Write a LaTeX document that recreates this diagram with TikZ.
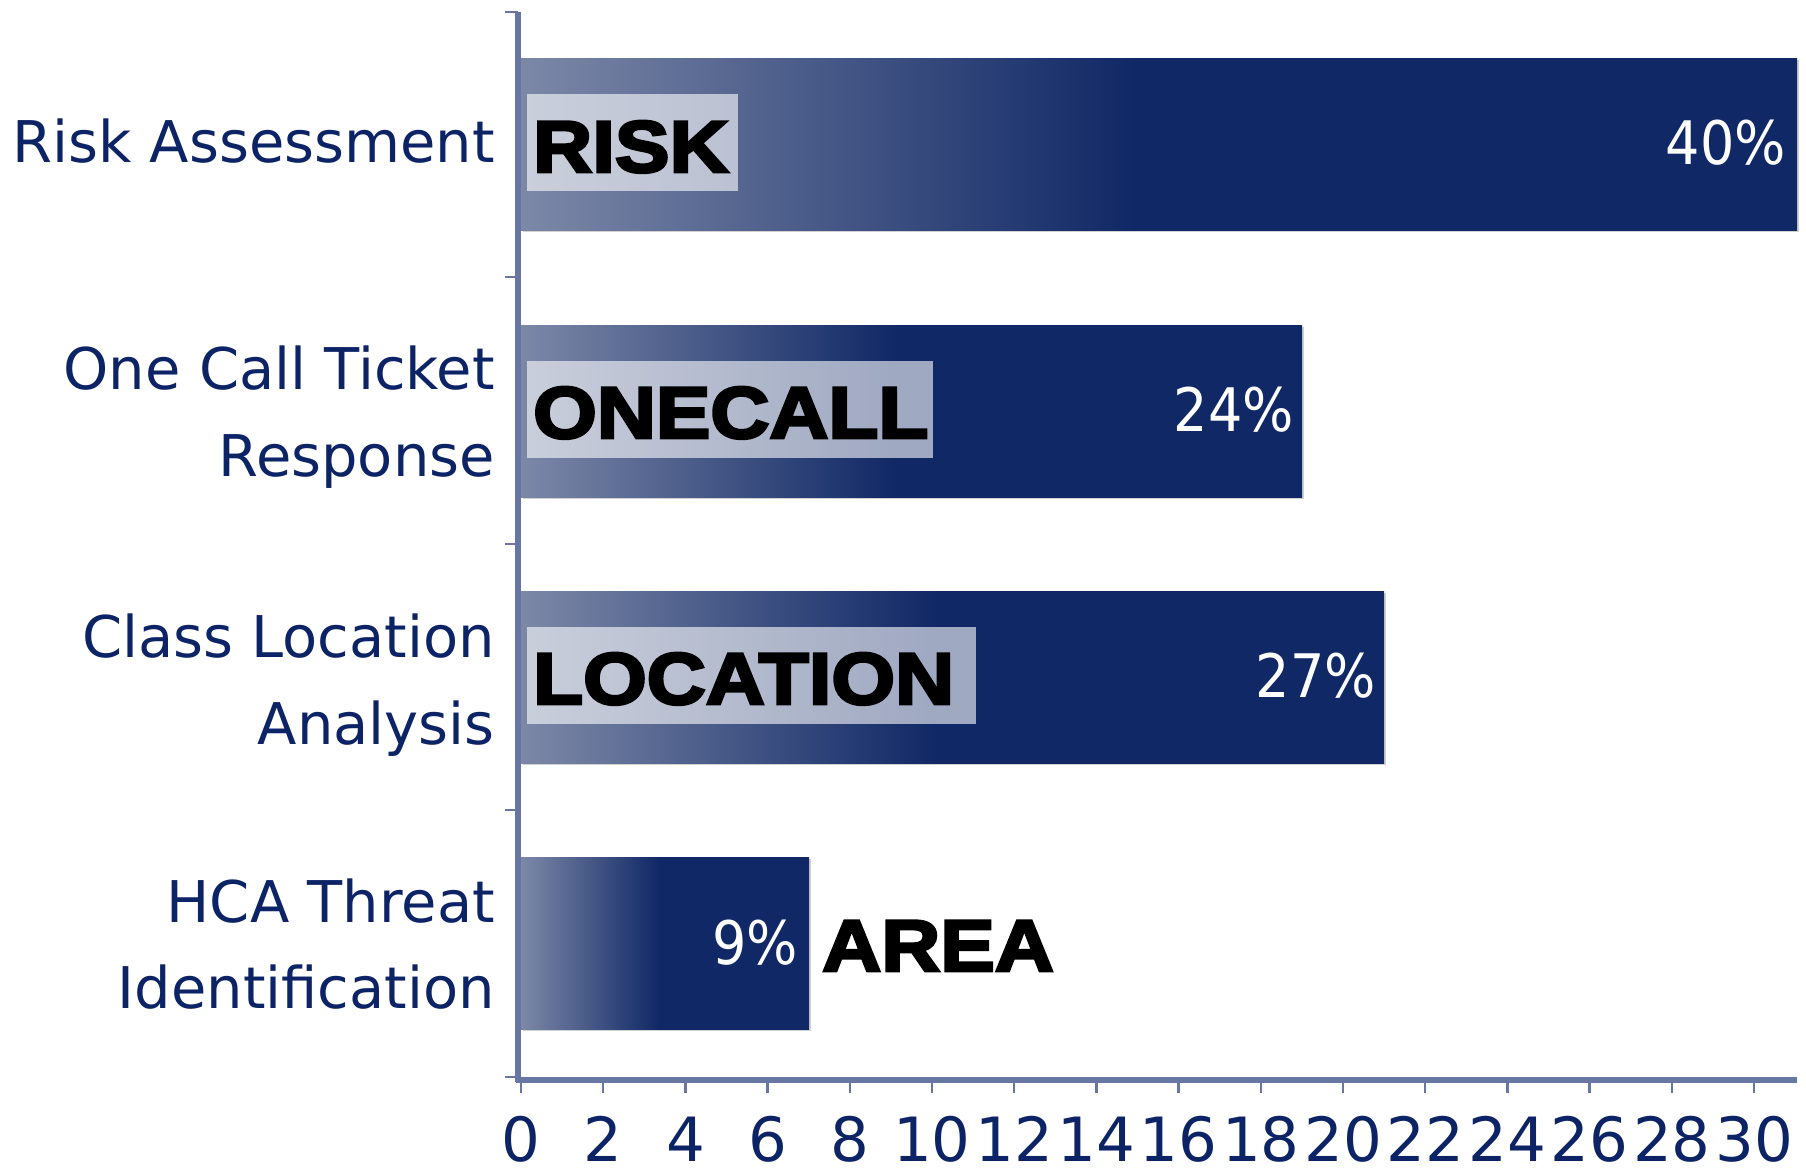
\documentclass[tikz,border=0pt]{standalone}
\usepackage{fontspec}
\setmainfont{DejaVu Sans}
\newfontfamily\heavyfont{Liberation Sans}[BoldFeatures={FakeBold=4,FakeStretch=1.12}]
\newfontfamily\pctfont{DejaVu Sans}[FakeStretch=0.9]
\definecolor{navy}{RGB}{16,40,102}
\definecolor{barL}{RGB}{124,136,167}
\definecolor{axisc}{RGB}{104,118,163}
\definecolor{labc}{RGB}{12,35,102}
\pgfdeclarehorizontalshading{barshade}{100bp}{color(0bp)=(barL); color(25bp)=(barL); color(49bp)=(navy); color(100bp)=(navy)}
\tikzset{
  bar/.style={anchor=north west, inner sep=0pt, minimum height=172pt, shading=barshade, draw=none},
  barshadow/.style={anchor=north west, inner sep=0pt, minimum height=172pt, fill=black, fill opacity=0.18, draw=none},
  lbox/.style={anchor=north west, inner sep=0pt, minimum height=97pt, fill=white, fill opacity=0.6, draw=none},
  bigtxt/.style={anchor=base west, inner sep=0pt, text=black, font=\heavyfont\bfseries\fontsize{73}{80}\selectfont},
  cat/.style={anchor=base east, inner sep=0pt, text=labc, font=\fontsize{57.5}{62}\selectfont},
  pct/.style={anchor=base east, inner sep=0pt, text=white, font=\pctfont\fontsize{60}{64}\selectfont},
  ticklab/.style={anchor=base, inner sep=0pt, text depth=0pt, text=labc, font=\fontsize{61}{64}\selectfont},
  axisline/.style={draw=axisc, line width=5.5pt},
  tickline/.style={draw=axisc, line width=2.5pt}
}
\begin{document}
\begin{tikzpicture}[x=1pt,y=-1pt]
\useasboundingbox (0,0) rectangle (1806,1169);
% shadows
\node[barshadow, minimum width=1276pt] (s1) at (523,60) {};
\node[barshadow, minimum width=781pt] (s2) at (523,327) {};
\node[barshadow, minimum width=863pt] (s3) at (523,593) {};
\node[barshadow, minimum width=288pt] (s4) at (523,859) {};
% bars
\node[bar, minimum width=1276pt] (b1) at (521,58) {};
\node[bar, minimum width=781pt] (b2) at (521,325) {};
\node[bar, minimum width=863pt] (b3) at (521,591) {};
\node[bar, minimum width=288pt] (b4) at (521,857) {};
% label boxes
\node[lbox, minimum width=211pt] (box1) at (527,94) {};
\node[lbox, minimum width=406pt] (box2) at (527,361) {};
\node[lbox, minimum width=449pt] (box3) at (527,627) {};
% bold labels
\node[bigtxt] (risk) at (533,172) {RISK};
\node[bigtxt] (onecall) at (533,438) {ONECALL};
\node[bigtxt] (location) at (533,704) {LOCATION};
\node[bigtxt] (area) at (822,971) {AREA};
% percentages
\node[pct] (p1) at (1786,165) {40\%};
\node[pct] (p2) at (1294,431) {24\%};
\node[pct] (p3) at (1376,697) {27\%};
\node[pct] (p4) at (798,964) {9\%};
% category labels
\node[cat] (c1) at (495,163) {Risk Assessment};
\node[cat] (c2a) at (495,389) {One Call Ticket};
\node[cat] (c2b) at (495,476) {Response};
\node[cat] (c3a) at (495,657) {Class Location};
\node[cat] (c3b) at (495,744) {Analysis};
\node[cat] (c4a) at (495,922) {HCA Threat};
\node[cat] (c4b) at (495,1008) {Identification};
% axes
\draw[axisline] (518,12) -- (518,1082);
\draw[axisline] (516,1080) -- (1797,1080);
\foreach \yy in {12,277,544,810,1077} {
  \draw[tickline] (505,\yy) -- (518,\yy);
}
\foreach \k in {0,2,...,30} {
  \draw[tickline] ({521+41.1*\k},1082) -- ({521+41.1*\k},1093);
  \node[ticklab] (t\k) at ({521+41.1*\k},1161) {\k};
}
\end{tikzpicture}
\end{document}
